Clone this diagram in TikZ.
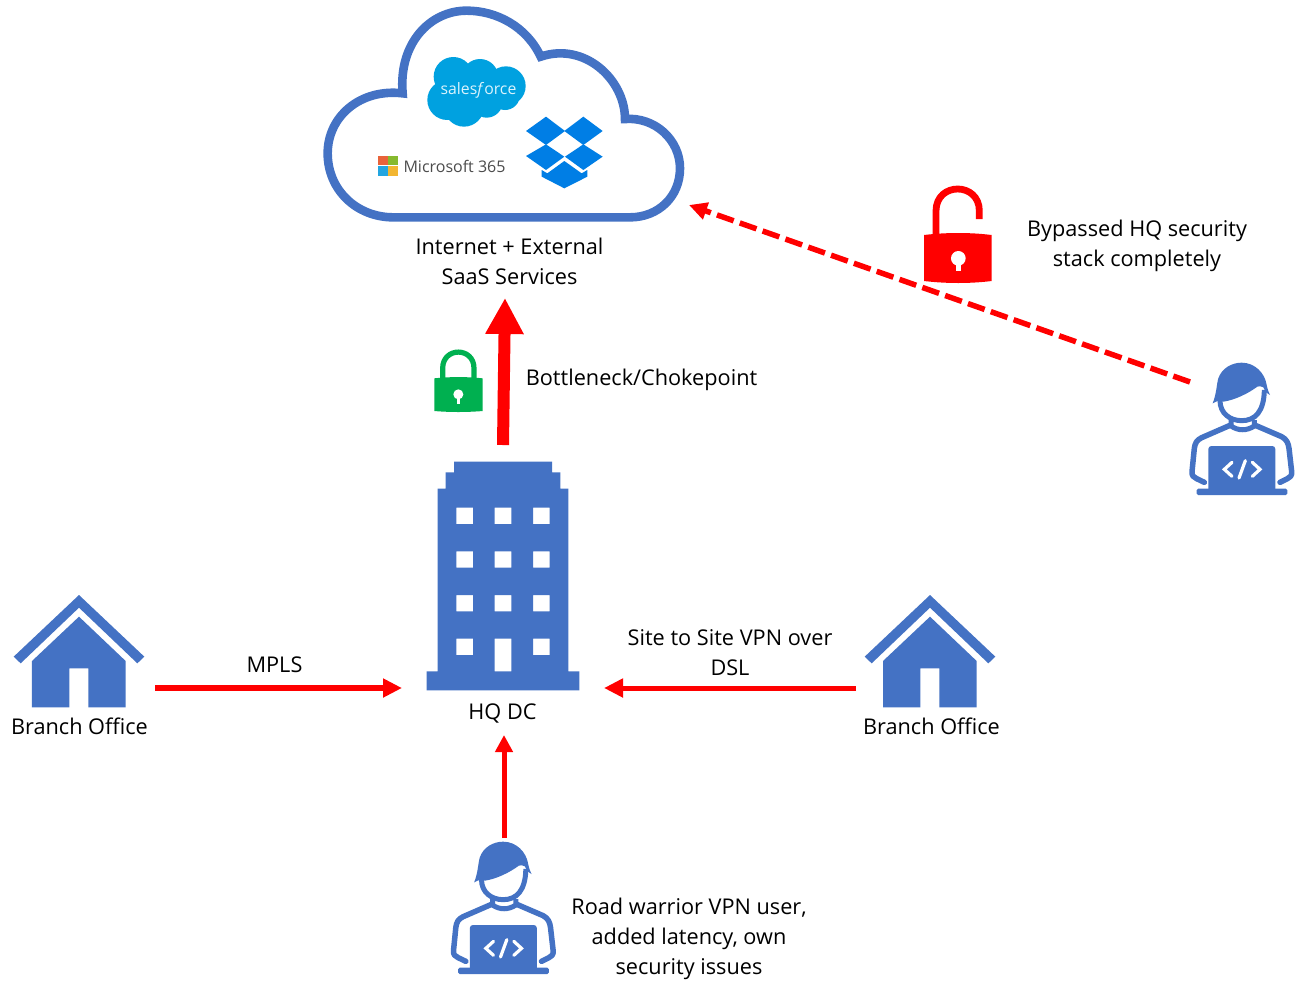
\documentclass[tikz,border=0pt]{standalone}
\usepackage{fontspec}
\setmainfont{Open Sans}
\usetikzlibrary{arrows.meta}
\definecolor{iconblue}{HTML}{4472C4}
\definecolor{lockgreen}{HTML}{00B050}
\definecolor{sfblue}{HTML}{00A1E0}
\definecolor{dbblue}{HTML}{007EE5}
\definecolor{msred}{HTML}{E8633A}
\definecolor{msgreen}{HTML}{86B92E}
\definecolor{msblue}{HTML}{22A5E0}
\definecolor{msyellow}{HTML}{F2B632}
\tikzset{
  lbl/.style={font=\fontsize{21.7}{30}\selectfont,align=center,text=black,inner sep=0pt},
  link/.style={draw=red,line width=#1},
  tipS/.style={-{Triangle[length=19pt,width=18pt]}},
  tipL/.style={-{Triangle[length=36pt,width=36pt]}},
  zoomed/.style={scale=.33333},
  pics/houseicon/.style={code={
    \fill[iconblue] (237,30)--(433,215)--(412,235)--(237,68)--(62,235)--(41,215)--cycle;
    \fill[iconblue] (237,95)--(377,228)--(377,367)--(265,367)--(265,250)--(208,250)--(208,367)--(96,367)--(96,228)--cycle;
  }},
  pics/personicon/.style={code={
    % hair
    \fill[iconblue] (128,160) .. controls (140,130) and (140,100) .. (145,85)
      .. controls (155,55) and (185,38) .. (215,38)
      .. controls (255,38) and (285,70) .. (290,105)
      .. controls (293,118) and (296,128) .. (300,135)
      .. controls (293,133) and (287,127) .. (280,112)
      .. controls (272,108) and (268,108) .. (262,110)
      .. controls (235,130) and (195,150) .. (160,155)
      .. controls (150,150) and (140,153) .. (128,160) -- cycle;
    % face
    \draw[iconblue,line width=5pt] (150,152) .. controls (150,190) and (180,212) .. (215,212)
      .. controls (255,212) and (282,185) .. (283,120);
    % neck and collar
    \draw[iconblue,line width=5pt] (183,210) -- (183,228) .. controls (205,243) and (230,243) .. (253,228) -- (253,210);
    % shoulders and arms
    \draw[iconblue,line width=5.5pt,line join=round,line cap=round] (180,226) -- (95,263)
      .. controls (80,270) and (75,280) .. (73,295) -- (66,365) .. controls (65,378) and (72,382) .. (80,386) -- (103,397);
    \draw[iconblue,line width=5.5pt,line join=round,line cap=round] (256,226) -- (335,260)
      .. controls (350,268) and (355,280) .. (357,295) -- (365,365) .. controls (366,378) and (360,382) .. (352,386) -- (330,397);
    % laptop
    \fill[iconblue,rounded corners=3pt] (115,288) rectangle (316,425);
    \fill[iconblue,rounded corners=1.5pt] (80,416) rectangle (352,435);
    \draw[white,line width=3.2pt,line cap=round,line join=miter] (186,337) -- (163,358) -- (186,379);
    \draw[white,line width=3.2pt,line cap=round,line join=miter] (247,337) -- (270,358) -- (247,379);
    \draw[white,line width=3.2pt,line cap=round] (226,332) -- (207,384);
  }},
}
\begin{document}
\begin{tikzpicture}[x=1pt,y=-1pt]
\useasboundingbox[fill=white] (0,0) rectangle (1303,983);

% cloud
\begin{scope}[shift={(310,0)},zoomed]
  \draw[iconblue,line width=8.6pt,line join=miter]
    (250,652) -- (960,652) .. controls (1045,652) and (1110,590) .. (1110,505)
    .. controls (1110,420) and (1035,350) .. (945,357)
    .. controls (945,240) and (825,125) .. (692,170)
    .. controls (650,80) and (560,32) .. (470,32)
    .. controls (360,32) and (265,130) .. (278,280)
    .. controls (150,265) and (53,350) .. (53,460)
    .. controls (53,570) and (140,652) .. (250,652) -- cycle;
  % salesforce
  \fill[sfblue] (430,230) circle[radius=59] (510,232) circle[radius=55] (588,258) circle[radius=59]
    (412,300) circle[radius=60] (462,320) circle[radius=60] (530,305) circle[radius=48] (585,285) circle[radius=45];
  % dropbox
  \fill[dbblue] (648,393)--(708,350)--(765,393)--(708,435)--cycle;
  \fill[dbblue] (763,393)--(820,350)--(878,393)--(820,435)--cycle;
  \fill[dbblue] (648,468)--(708,433)--(763,470)--(708,510)--cycle;
  \fill[dbblue] (765,470)--(820,433)--(878,470)--(820,510)--cycle;
  \fill[dbblue] (763,483)--(815,520)--(832,510)--(832,530)--(763,565)--(695,530)--(695,510)--(712,520)--cycle;
  % microsoft
  \fill[msred] (203,467) rectangle (233,496);
  \fill[msgreen] (235,467) rectangle (265,496);
  \fill[msblue] (203,498) rectangle (233,528);
  \fill[msyellow] (235,498) rectangle (265,528);
\end{scope}
\node[font=\fontsize{15.8}{20}\selectfont,text=cyan!15,inner sep=0pt] (sflabel) at (478.5,90.5) {sales\textit{f}orce};
\node[font=\fontsize{16}{20}\selectfont,text=black!70,inner sep=0pt] (mslabel) at (454.5,166) {Microsoft 365};

% building
\begin{scope}[shift={(415,450)},zoomed]
  \fill[iconblue,even odd rule] (117,35)--(411,35)--(411,67)--(436,67)--(436,116)--(460,116)--(460,664)--(493,664)--(493,721)--(35,721)--(35,664)--(68,664)--(68,116)--(92,116)--(92,67)--(117,67)--cycle
    (124,173) rectangle (174,222) (239,173) rectangle (289,222) (354,173) rectangle (404,222)
    (124,304) rectangle (174,353) (239,304) rectangle (289,353) (354,304) rectangle (404,353)
    (124,435) rectangle (174,484) (239,435) rectangle (289,484) (354,435) rectangle (404,484)
    (124,566) rectangle (174,615) (239,566) rectangle (289,664) (354,566) rectangle (404,615);
\end{scope}

% houses and people
\pic[zoomed] (houseL) at (0,585) {houseicon};
\pic[zoomed] (houseR) at (851,585) {houseicon};
\pic[zoomed] (userR) at (1170,350) {personicon};
\pic[zoomed] (userB) at (431.5,829) {personicon};

% green lock
\begin{scope}[shift={(420,340)},zoomed]
  \draw[lockgreen,line width=5.2pt] (68,120) -- (68,85) .. controls (68,20) and (162,20) .. (162,85) -- (162,120);
  \fill[lockgreen] (43,115) .. controls (90,110) and (140,110) .. (188,115) -- (188,213) .. controls (140,217) and (90,217) .. (43,213) -- cycle;
  \fill[white] (115,163) circle[radius=15];
  \fill[white] (110,165) rectangle (120,192);
\end{scope}

% red lock
\begin{scope}[shift={(900,175)},zoomed]
  \draw[red,line width=6.8pt] (108,185) -- (108,108) .. controls (108,20) and (238,20) .. (238,108) -- (238,132);
  \fill[red] (72,180) .. controls (140,172) and (210,172) .. (275,180) -- (275,318) .. controls (210,326) and (140,326) .. (72,318) -- cycle;
  \fill[white] (175,250) circle[radius=22];
  \fill[white] (168,252) rectangle (182,288);
\end{scope}

% connector ends
\coordinate (mplsA) at (155,688);
\coordinate (mplsB) at (402,688);
\coordinate (vpnA) at (856,688);
\coordinate (vpnB) at (604,688);
\coordinate (roadA) at (504,838);
\coordinate (roadB) at (504,735);
\coordinate (chokeA) at (503,445);
\coordinate (chokeB) at (505,298);
\coordinate (bypassA) at (1190,382);
\coordinate (bypassB) at (689,205);

\draw[link=6pt,tipS] (mplsA) -- (mplsB);
\draw[link=5pt,tipS] (vpnA) -- (vpnB);
\draw[link=5pt,-{Triangle[length=17pt,width=17pt]}] (roadA) -- (roadB);
\draw[link=12pt,tipL] (chokeA) -- (chokeB);
\draw[link=5.5pt,-{Triangle[length=18pt,width=17pt]},dash pattern=on 17.7pt off 6.5pt] (bypassA) -- (bypassB);

% labels
\node[lbl] (tCloud) at (509.5,261) {Internet + External\\SaaS Services};
\node[lbl] (tChoke) at (641.5,380) {Bottleneck/Chokepoint};
\node[lbl] (tBypass) at (1137,246) {Bypassed HQ security\\stack completely};
\node[lbl] (tMpls) at (274.5,665) {MPLS};
\node[lbl] (tVpn) at (730,653) {Site to Site VPN over\\DSL};
\node[lbl] (tHq) at (502.5,713) {HQ DC};
\node[lbl] (tBranchL) at (79.5,726) {Branch Office};
\node[lbl] (tBranchR) at (931.5,726) {Branch Office};
\node[lbl] (tRoad) at (689,939) {Road warrior VPN user,\\added latency, own\\security issues};
\end{tikzpicture}
\end{document}
